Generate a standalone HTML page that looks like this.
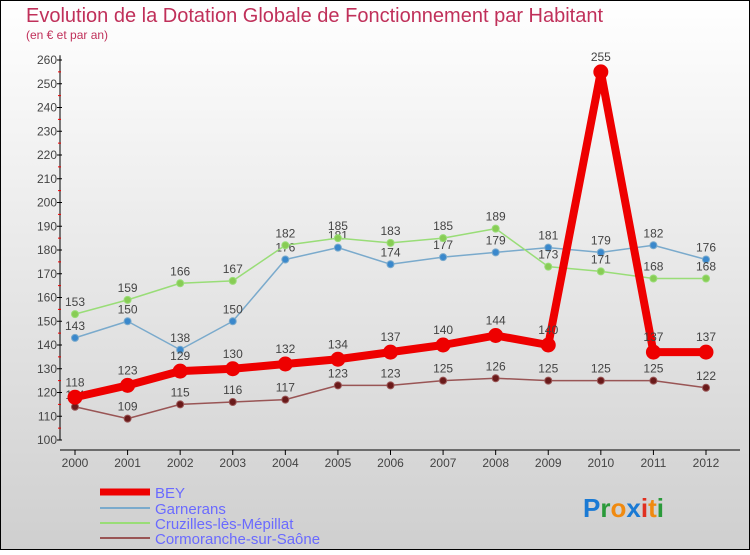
<!DOCTYPE html>
<html><head><meta charset="utf-8"><style>
body{margin:0;}
#c{width:750px;height:550px;position:relative;font-family:"Liberation Sans",sans-serif;}
</style></head><body>
<div id="c">
<svg id="s" width="750" height="550" xmlns="http://www.w3.org/2000/svg">
<defs><linearGradient id="bg" x1="0" y1="0" x2="0" y2="1"><stop offset="0" stop-color="#ffffff"/><stop offset="1" stop-color="#cfcfcf"/></linearGradient></defs>
<rect x="0.5" y="0.5" width="749" height="549" fill="url(#bg)" stroke="#000"/>
<text x="26" y="22" font-size="20" fill="#c0305a">Evolution de la Dotation Globale de Fonctionnement par Habitant</text>
<text x="26" y="39" font-size="12" fill="#c0305a">(en € et par an)</text>
<g id="axes"></g><g id="series"></g>
<g>
<line x1="100" y1="492" x2="150" y2="492" stroke="#e00" stroke-width="7"/>
<text x="155" y="498" font-size="15" fill="#6a6aff">BEY</text>
<line x1="100" y1="508" x2="150" y2="508" stroke="#7aaacc" stroke-width="2"/>
<text x="155" y="514" font-size="15" fill="#6a6aff">Garnerans</text>
<line x1="100" y1="523" x2="150" y2="523" stroke="#99dd77" stroke-width="2"/>
<text x="155" y="529" font-size="15" fill="#6a6aff">Cruzilles-lès-Mépillat</text>
<line x1="100" y1="538" x2="150" y2="538" stroke="#995555" stroke-width="2"/>
<text x="155" y="544" font-size="15" fill="#6a6aff">Cormoranche-sur-Saône</text>
</g>
<text x="583" y="517" font-size="26" font-weight="bold"><tspan fill="#1a7ad4">P</tspan><tspan fill="#2a9a3a">r</tspan><tspan fill="#f08a10">o</tspan><tspan fill="#1a7ad4">x</tspan><tspan fill="#e03020">i</tspan><tspan fill="#f08a10">t</tspan><tspan fill="#2a9a3a">i</tspan></text>
</svg></div>
<script>
const years=[2000,2001,2002,2003,2004,2005,2006,2007,2008,2009,2010,2011,2012];
const bey=[118,123,129,130,132,134,137,140,144,140,255,137,137];
const garnerans=[143,150,138,150,176,181,174,177,179,181,179,182,176];
const cruzilles=[153,159,166,167,182,185,183,185,189,173,171,168,168];
const cormoranche=[114,109,115,116,117,123,123,125,126,125,125,125,122];
const yTicks=[100,110,120,130,140,150,160,170,180,190,200,210,220,230,240,250,260];
const NS="http://www.w3.org/2000/svg";
const X=i=>75+i*(706-75)/12;
const Y=v=>440-(v-100)*(380/160);
function mk(tag,attrs,parent){const e=document.createElementNS(NS,tag);for(const k in attrs)e.setAttribute(k,attrs[k]);parent.appendChild(e);return e;}
const ax=document.getElementById('axes');
let l=mk('line',{x1:60,y1:Y(262),x2:60,y2:440,stroke:'#000'},ax);


l=mk('line',{x1:60,y1:450,x2:740,y2:450,stroke:'#000'},ax);


yTicks.forEach(v=>{
  mk('line',{x1:57,y1:Y(v),x2:62,y2:Y(v),stroke:'#000'},ax);
  if(v<260) mk('line',{x1:58,y1:Y(v+5),x2:61,y2:Y(v+5),stroke:'#e00'},ax);
  const t=mk('text',{x:57,y:Y(v)+4,'font-size':12,'text-anchor':'end',fill:'#444'},ax);
  t.textContent=v;
  
  
});
years.forEach((y,i)=>{
  mk('line',{x1:X(i),y1:450,x2:X(i),y2:455,stroke:'#000'},ax);
  const t=mk('text',{x:X(i),y:467,'font-size':12,'text-anchor':'middle',fill:'#444'},ax);
  t.textContent=y;
  
  
});
const sg=document.getElementById('series');
function series(vals,color,w,r,name,fill){
  const g=mk('g',{},sg);
  
  
  const p=mk('polyline',{points:vals.map((v,i)=>X(i)+','+Y(v)).join(' '),fill:'none',stroke:color,'stroke-width':w,'stroke-linejoin':'round'},g);
  
  
  vals.forEach((v,i)=>{
    const c=mk('circle',{cx:X(i),cy:Y(v),r:r,fill:fill,stroke:color},g);
    
    
    const t=mk('text',{x:X(i),y:Y(v)-8-(r>5?3:0),'font-size':12,'text-anchor':'middle',fill:'#444'},g);
    t.textContent=v;
    
    
  });
}
series(cormoranche,'#995555',1.5,3.5,'cormoranche','#6a1a1a');
series(garnerans,'#7aaacc',1.5,3.5,'garnerans','#3a88cc');
series(cruzilles,'#99dd77',1.5,3.5,'cruzilles','#88cc55');
series(bey,'#ee0000',8,7,'bey','#ee0000');
</script>
</body></html>
